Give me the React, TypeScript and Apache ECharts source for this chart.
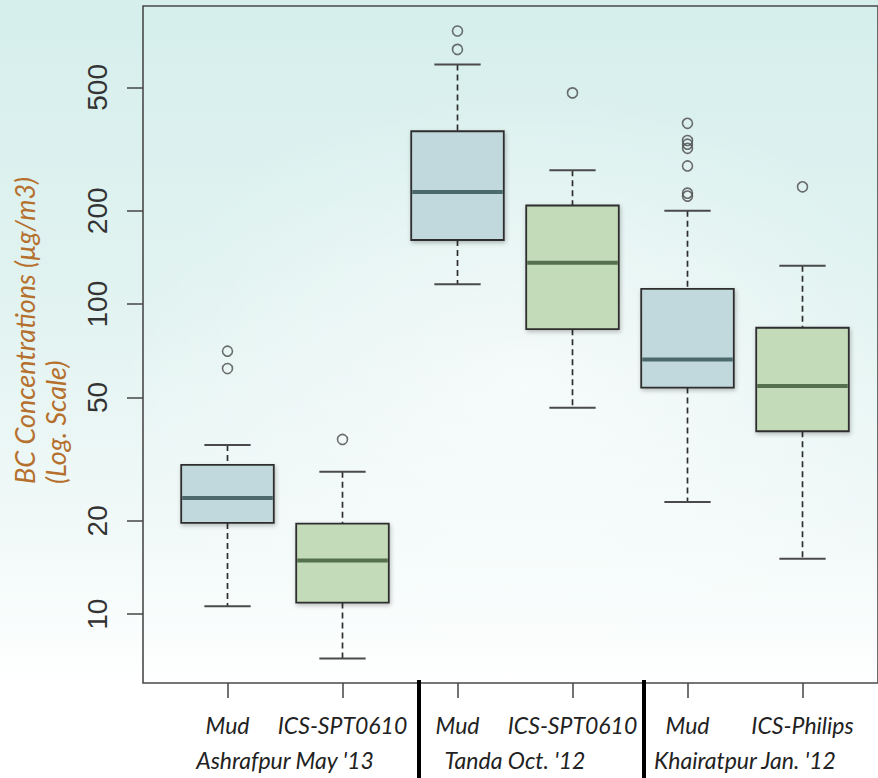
import React, { useEffect, useRef } from "react";
import * as echarts from "echarts";

// ---- data ----
const categories = ["Mud", "ICS-SPT0610", "Mud", "ICS-SPT0610", "Mud", "ICS-Philips"];
const groupLabels = ["Ashrafpur May '13", "Tanda Oct. '12", "Khairatpur Jan. '12"];
const whiskerLow = [10.6, 7.2, 116, 46.3, 23.0, 15.1];
const quart1 = [19.7, 10.9, 161, 83.0, 53.8, 38.9];
const medians = [23.7, 14.9, 230, 136, 66.3, 54.4];
const quart3 = [30.3, 19.6, 361, 208, 112, 83.9];
const whiskerHigh = [35.1, 28.8, 593, 270, 200, 133];
const outliers: number[][] = [
  [70.5, 62.0],
  [36.6],
  [760, 663],
  [480],
  [383, 337, 328, 318, 279, 228, 223],
  [239],
];
const yTicks = [10, 20, 50, 100, 200, 500];
const yMin = 6;
const yMax = 915;

const FILL_BLUE = "#c1d8dd";
const FILL_GREEN = "#c3dbb8";
const MED_BLUE = "#4c6a6e";
const MED_GREEN = "#55704e";

export default function App() {
  const ref = useRef<HTMLDivElement | null>(null);

  useEffect(() => {
    if (!ref.current) return;
    const chart = echarts.init(ref.current, undefined, { renderer: "svg" });

    const boxData = categories.map((_, i) => [
      i,
      whiskerLow[i],
      quart1[i],
      medians[i],
      quart3[i],
      whiskerHigh[i],
    ]);
    const outlierData: number[][] = [];
    outliers.forEach((arr, i) => arr.forEach((v) => outlierData.push([i, v])));

    const option: any = {
      animation: false,
      backgroundColor: "transparent",
      grid: [
        {
          left: 143,
          top: 6,
          width: 743,
          height: 677,
          show: true,
          borderColor: "#4a4a4a",
          borderWidth: 1.6,
          backgroundColor: "transparent",
        },
        {
          left: 170,
          top: 6,
          width: 690,
          height: 677,
          show: false,
        },
      ],
      xAxis: [
        { gridIndex: 0, type: "value", min: 0, max: 1, show: false },
        {
          gridIndex: 1,
          type: "category",
          data: categories,
          axisLine: { show: false },
          axisTick: {
            show: true,
            alignWithLabel: true,
            length: 15,
            lineStyle: { color: "#444", width: 1.5 },
          },
          axisLabel: {
            margin: 30,
            fontSize: 23,
            fontStyle: "italic",
            fontFamily: "Lato",
            color: "#222",
            interval: 0,
          },
          splitLine: { show: false },
        },
      ],
      yAxis: [
        {
          gridIndex: 0,
          type: "log",
          logBase: 10,
          min: yMin,
          max: yMax,
          axisLine: { show: false },
          axisTick: {
            show: true,
            length: 16,
            customValues: yTicks,
            lineStyle: { color: "#444", width: 1.5 },
          },
          axisLabel: {
            customValues: yTicks,
            rotate: 90,
            margin: 32,
            fontSize: 28,
            fontFamily: "Liberation Sans",
            color: "#333",
          },
          splitLine: { show: false },
        },
        {
          gridIndex: 1,
          type: "log",
          logBase: 10,
          min: yMin,
          max: yMax,
          show: false,
        },
      ],
      series: [
        {
          type: "custom",
          xAxisIndex: 1,
          yAxisIndex: 1,
          data: boxData,
          encode: { x: 0, y: [1, 2, 3, 4, 5] },
          renderItem: (params: any, api: any) => {
            const idx = api.value(0);
            const lo = api.coord([idx, api.value(1)]);
            const b1 = api.coord([idx, api.value(2)]);
            const md = api.coord([idx, api.value(3)]);
            const b3 = api.coord([idx, api.value(4)]);
            const hi = api.coord([idx, api.value(5)]);
            const band = api.size([1, 1])[0];
            const half = (band * 0.805) / 2;
            const cap = half / 2;
            const x = lo[0];
            const green = idx % 2 === 1;
            const dash = { stroke: "#2e2e2e", lineWidth: 1.7, lineDash: [6, 4] };
            const capStyle = { stroke: "#4a4a4a", lineWidth: 2 };
            return {
              type: "group",
              children: [
                { type: "line", shape: { x1: x, y1: hi[1], x2: x, y2: b3[1] }, style: dash },
                { type: "line", shape: { x1: x, y1: b1[1], x2: x, y2: lo[1] }, style: dash },
                { type: "line", shape: { x1: x - cap, y1: hi[1], x2: x + cap, y2: hi[1] }, style: capStyle },
                { type: "line", shape: { x1: x - cap, y1: lo[1], x2: x + cap, y2: lo[1] }, style: capStyle },
                {
                  type: "rect",
                  shape: { x: x - half, y: b3[1], width: 2 * half, height: b1[1] - b3[1] },
                  style: {
                    fill: green ? FILL_GREEN : FILL_BLUE,
                    stroke: "#2e2e2e",
                    lineWidth: 1.8,
                    shadowBlur: 4,
                    shadowColor: "rgba(0,0,0,0.25)",
                    shadowOffsetX: 1,
                    shadowOffsetY: 2,
                  },
                },
                {
                  type: "line",
                  shape: { x1: x - half + 1, y1: md[1], x2: x + half - 1, y2: md[1] },
                  style: { stroke: green ? MED_GREEN : MED_BLUE, lineWidth: 4 },
                },
              ],
            };
          },
        },
        {
          type: "scatter",
          xAxisIndex: 1,
          yAxisIndex: 1,
          data: outlierData,
          symbol: "circle",
          symbolSize: 10,
          itemStyle: { color: "rgba(0,0,0,0)", borderColor: "#4a4a4a", borderWidth: 1.6 },
        },
      ],
    };
    chart.setOption(option);

    const px = (i: number) => chart.convertToPixel({ xAxisIndex: 1 } as any, i) as number;
    const groupTexts = groupLabels.map((g, k) => ({
      type: "text",
      x: (px(2 * k) + px(2 * k + 1)) / 2,
      y: 760,
      style: {
        text: g,
        font: "italic 23px Lato",
        fill: "#222",
        textAlign: "center",
        textVerticalAlign: "middle",
      },
    }));

    chart.setOption({
      graphic: [
        ...groupTexts,
        {
          type: "line",
          shape: { x1: 419, y1: 680, x2: 419, y2: 778 },
          style: { stroke: "#000", lineWidth: 4 },
        },
        {
          type: "line",
          shape: { x1: 644, y1: 680, x2: 644, y2: 778 },
          style: { stroke: "#000", lineWidth: 4 },
        },
        {
          type: "text",
          x: 9,
          y: 484,
          rotation: Math.PI / 2,
          style: {
            text: "BC Concentrations (\u00b5g/m3)\n(Log. Scale)",
            font: "italic 27px Lato",
            fill: "#b5702e",
            textAlign: "left",
            textVerticalAlign: "top",
            lineHeight: 31,
          },
        },
      ],
    });

    return () => chart.dispose();
  }, []);

  return (
    <div
      style={{
        position: "fixed",
        left: 0,
        top: 0,
        width: 878,
        height: 778,
        background:
          "radial-gradient(ellipse at 60% 50%, rgba(255,255,255,0.6) 0%, rgba(255,255,255,0) 55%), linear-gradient(to bottom, #d6efec 0%, #e2f3f1 40%, #f2faf9 70%, #ffffff 88%)",
      }}
    >
      <div ref={ref} style={{ width: 878, height: 778 }} />
    </div>
  );
}
